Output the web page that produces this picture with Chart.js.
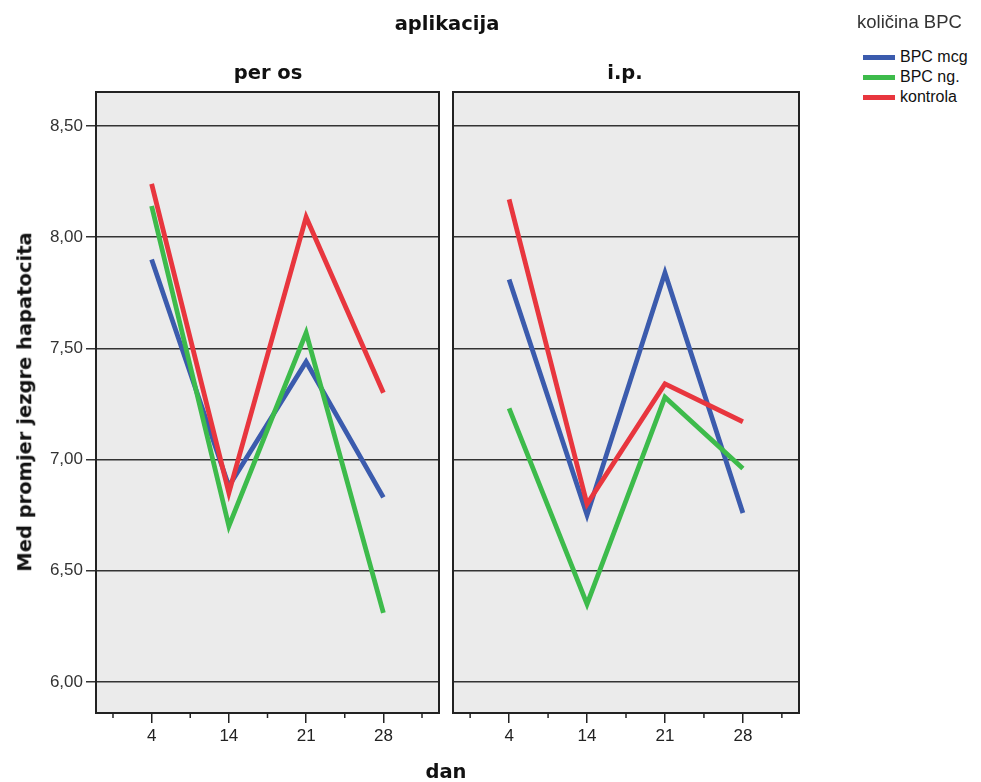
<!DOCTYPE html>
<html>
<head>
<meta charset="utf-8">
<script src="https://cdn.jsdelivr.net/npm/chart.js@4/dist/chart.umd.min.js"></script>
<style>
	body { margin: 0; background: #fff; width: 981px; height: 782px; position: relative; overflow: hidden; font-family: 'Liberation Sans', Arial, sans-serif; color: #222; }
	canvas { position: absolute; top: 0; }
	.lbl { position: absolute; transform: translate(-50%, -50%); white-space: nowrap; line-height: 1; }
	.bold { font-family: 'DejaVu Sans', Verdana, sans-serif; font-weight: bold; font-size: 19.5px; color: #111; }
	#legendTitle { position: absolute; left: 857px; top: 22px; transform: translateY(-50%); font-size: 18.5px; line-height: 1; color: #333; white-space: nowrap; }
	#legend { position: absolute; left: 854px; top: 47px; }
	#legend .item { display: flex; align-items: center; height: 20px; font-size: 16px; color: #111; }
	#legend .swatch { width: 32px; height: 5px; margin: 0 5px 0 9px; }
</style>
</head>
<body>
<canvas id="leftChart" width="445" height="782" style="left:0;width:445px;height:782px"></canvas>
<canvas id="rightChart" width="360" height="782" style="left:445px;width:360px;height:782px"></canvas>

<div class="lbl bold" style="left:447px;top:24px">aplikacija</div>
<div class="lbl bold" style="left:268px;top:73px">per os</div>
<div class="lbl bold" style="left:625px;top:73px">i.p.</div>
<div class="lbl bold" style="left:446px;top:772px">dan</div>
<div class="lbl bold" style="left:25px;top:402px;transform:translate(-50%,-50%) rotate(-90deg)">Med promjer jezgre hapatocita</div>
<div id="legendTitle">količina BPC</div>
<div id="legend"></div>

<script>
// ---------------- data ----------------
const days = ['4', '14', '21', '28'];
const seriesNames = ['BPC mcg', 'BPC ng.', 'kontrola'];
const seriesColors = ['#3b5bad', '#3dbb4b', '#e8363e'];
const yTicks = [6.0, 6.5, 7.0, 7.5, 8.0, 8.5];

// per os
const perOsMcg = [7.90, 6.88, 7.44, 6.83];
const perOsNg = [8.14, 6.70, 7.57, 6.31];
const perOsKontrola = [8.24, 6.85, 8.09, 7.30];

// i.p.
const ipMcg = [7.81, 6.75, 7.84, 6.76];
const ipNg = [7.23, 6.35, 7.28, 6.96];
const ipKontrola = [8.17, 6.80, 7.34, 7.17];

// ---------------- helpers ----------------
const font = { family: "'Liberation Sans', Arial, sans-serif", size: 17 };

// grey plot background + black frame + short minor ticks on x
const panelPlugin = {
	id: 'panel',
	beforeDraw(chart) {
		const { ctx, chartArea: a } = chart;
		ctx.save();
		ctx.fillStyle = '#ebebeb';
		ctx.fillRect(a.left, a.top, a.right - a.left, a.bottom - a.top);
		ctx.restore();
	},
	afterDraw(chart) {
		const { ctx, chartArea: a, scales } = chart;
		ctx.save();
		ctx.strokeStyle = '#222';
		ctx.lineWidth = 2;
		ctx.strokeRect(a.left, a.top, a.right - a.left, a.bottom - a.top);
		ctx.lineWidth = 1.5;
		for (let i = 0; i <= days.length; i++) {
			const x = scales.x.getPixelForValue(i - 0.5);
			ctx.beginPath();
			ctx.moveTo(x, a.bottom);
			ctx.lineTo(x, a.bottom + 5);
			ctx.stroke();
		}
		ctx.restore();
	},
};

function toPoints(values) {
	return values.map((v, i) => ({ x: i, y: v }));
}

function makeChart(id, series, showY, padLeft) {
	const ctx = document.getElementById(id);
	return new Chart(ctx, {
		type: 'line',
		data: {
			datasets: series.map((values, i) => ({
				label: seriesNames[i],
				data: toPoints(values),
				borderColor: seriesColors[i],
				borderWidth: 4.8,
				borderJoinStyle: 'miter',
				pointRadius: 0,
				tension: 0,
				order: 3 - i,
			})),
		},
		options: {
			responsive: false,
			animation: false,
			events: [],
			layout: { padding: { top: 92, right: 6, bottom: 29, left: padLeft } },
			plugins: { legend: { display: false }, tooltip: { enabled: false } },
			scales: {
				x: {
					type: 'linear',
					min: -0.72,
					max: 3.72,
					afterBuildTicks: (scale) => {
						scale.ticks = days.map((d, i) => ({ value: i }));
					},
					afterFit: (scale) => {
						scale.height = 40;
					},
					ticks: {
						color: '#222',
						font: font,
						padding: 3,
						maxRotation: 0,
						callback: (value) => days[value],
					},
					grid: { drawOnChartArea: false, color: '#222', lineWidth: 1.5, tickLength: 10 },
					border: { display: false },
				},
				y: {
					min: 5.86,
					max: 8.653,
					afterBuildTicks: (scale) => {
						scale.ticks = yTicks.map((v) => ({ value: v }));
					},
					afterFit: (scale) => {
						scale.width = showY ? 96 : 0;
					},
					ticks: {
						display: showY,
						color: '#333',
						font: font,
						padding: 3,
						callback: (value) => value.toFixed(2).replace('.', ','),
					},
					grid: { color: '#333', lineWidth: 1.5, drawTicks: showY, tickLength: 10 },
					border: { display: false },
				},
			},
		},
		plugins: [panelPlugin],
	});
}

makeChart('leftChart', [perOsMcg, perOsNg, perOsKontrola], true, 0);
makeChart('rightChart', [ipMcg, ipNg, ipKontrola], false, 8);

// legend
document.getElementById('legend').innerHTML = seriesNames
	.map((name, i) => `<div class="item"><span class="swatch" style="background:${seriesColors[i]}"></span>${name}</div>`)
	.join('');
</script>
</body>
</html>
